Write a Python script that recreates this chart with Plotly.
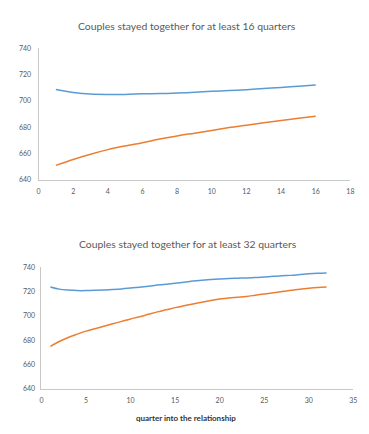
import plotly.graph_objects as go

x16 = list(range(1, 17))
blue16 = [708.7, 706.5, 705.2, 704.9, 705.0, 705.4, 705.6, 706.0, 706.6, 707.3, 707.9, 708.6, 709.4, 710.3, 711.2, 712.2]
orange16 = [651.0, 655.5, 659.5, 663.0, 665.8, 668.3, 671.0, 673.4, 675.5, 677.6, 679.8, 681.6, 683.4, 685.2, 686.8, 688.3]

x32 = list(range(1, 33))
blue32 = [723.8, 722.0, 721.2, 720.8, 720.8, 721.0, 721.3, 721.7, 722.2, 722.9, 723.6, 724.4, 725.3, 726.1, 726.9, 727.7,
          728.6, 729.3, 729.9, 730.4, 730.8, 731.0, 731.2, 731.5, 732.0, 732.5, 733.0, 733.3, 734.0, 734.6, 735.0, 735.2]
orange32 = [675.0, 679.0, 682.3, 685.0, 687.5, 689.5, 691.5, 693.5, 695.5, 697.5, 699.3, 701.3, 703.3, 705.0, 706.8, 708.3,
            709.8, 711.2, 712.6, 713.8, 714.8, 715.4, 716.0, 717.0, 718.0, 719.0, 720.0, 721.0, 722.0, 722.8, 723.4, 723.7]

titles = ["Couples stayed together for at least 16 quarters", "Couples stayed together for at least 32 quarters"]
xlabel = "quarter into the relationship"

BLUE = "#5B9BD5"
ORANGE = "#ED7D31"
FONT = "Lato, Open Sans, sans-serif"

W, H = 369, 434
OFF = 8  # page body margin


def px_x(p):
    return (p - OFF) / W


def px_y(p):
    return 1 - (p - OFF) / H


fig = go.Figure()
fig.add_trace(go.Scatter(x=x16, y=blue16, mode="lines", line=dict(color=BLUE, width=1.5, shape="spline"), xaxis="x", yaxis="y", showlegend=False))
fig.add_trace(go.Scatter(x=x16, y=orange16, mode="lines", line=dict(color=ORANGE, width=1.5, shape="spline"), xaxis="x", yaxis="y", showlegend=False))
fig.add_trace(go.Scatter(x=x32, y=blue32, mode="lines", line=dict(color=BLUE, width=1.5, shape="spline"), xaxis="x2", yaxis="y2", showlegend=False))
fig.add_trace(go.Scatter(x=x32, y=orange32, mode="lines", line=dict(color=ORANGE, width=1.5, shape="spline"), xaxis="x2", yaxis="y2", showlegend=False))

axis_common = dict(showgrid=False, zeroline=False, showline=True, linecolor="#C8C8C8", linewidth=1,
                   ticks="outside", tickcolor="rgba(0,0,0,0)", ticklabeloverflow="allow",
                   tickfont=dict(family=FONT, size=7, color="#595959"))

fig.update_layout(
    width=W, height=H,
    margin=dict(l=0, r=0, t=0, b=0),
    paper_bgcolor="white", plot_bgcolor="white",
    xaxis=dict(domain=[px_x(37), px_x(354)], range=[0, 18], dtick=2, anchor="y", ticklen=5, **axis_common),
    yaxis=dict(domain=[px_y(178), px_y(44)], range=[640, 740], dtick=20, anchor="x", ticklen=5, **axis_common),
    xaxis2=dict(domain=[px_x(40), px_x(357)], range=[0, 35], dtick=5, anchor="y2", ticklen=5, **axis_common),
    yaxis2=dict(domain=[px_y(391), px_y(267)], range=[640, 740], dtick=20, anchor="x2", ticklen=4, **axis_common),
    annotations=[
        dict(text=titles[0], x=px_x(188), y=px_y(21), xref="paper", yref="paper", showarrow=False,
             font=dict(family=FONT, size=10.4, color="#595959"), xanchor="center", yanchor="middle"),
        dict(text=titles[1], x=px_x(189), y=px_y(243), xref="paper", yref="paper", showarrow=False,
             font=dict(family=FONT, size=10.4, color="#595959"), xanchor="center", yanchor="middle"),
        dict(text="<b>" + xlabel + "</b>", x=px_x(187), y=px_y(421), xref="paper", yref="paper", showarrow=False,
             font=dict(family=FONT, size=8, color="#333333"), xanchor="center", yanchor="middle"),
    ],
)

fig.write_html("out.html")
